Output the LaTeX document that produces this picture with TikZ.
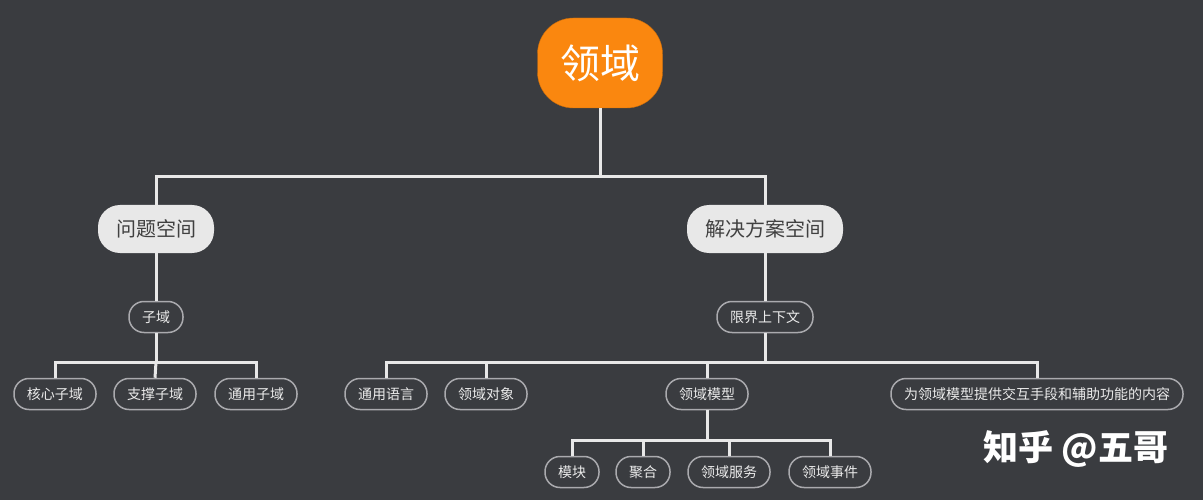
\documentclass[tikz,border=0pt]{standalone}
\usepackage{fontspec}
\setmainfont{Noto Sans CJK SC}
\usepackage{xcolor}
\usepackage{tikz}
\usetikzlibrary{positioning,calc}
\definecolor{bgdark}{RGB}{58,60,64}
\definecolor{domorange}{RGB}{250,135,15}
\definecolor{spacegray}{RGB}{232,232,232}
\definecolor{linegray}{RGB}{232,232,232}
\definecolor{leafborder}{RGB}{170,170,174}

\begin{document}
\begin{tikzpicture}[
        x=1pt, y=-1pt,
        every node/.style={font=\fontsize{14}{16}\selectfont},
        root/.style={rectangle, rounded corners=36pt, fill=domorange, draw=domorange!80!black, minimum width=125pt, minimum height=90pt, text=white, font=\fontsize{40}{44}\selectfont},
        space/.style={rectangle, rounded corners=22pt, fill=spacegray, text=black!75, minimum height=48pt, inner xsep=18pt, font=\fontsize{20}{24}\selectfont},
        leaf/.style={rectangle, rounded corners=15pt, draw=leafborder, line width=1.5pt, fill=bgdark, text=white!92!black, minimum height=31pt, inner xsep=13pt},
        edge/.style={draw=linegray, line width=3pt}
    ]
        \fill[bgdark] (0,0) rectangle (1203,500);
        \useasboundingbox (0,0) rectangle (1203,500);

        \node[root] (domain) at (600,63) {领域};
        \node[space] (problem) at (156,229) {问题空间};
        \node[space] (solution) at (765,229) {解决方案空间};
        \node[leaf] (sub) at (156,317) {子域};
        \node[leaf] (bounded) at (765,317) {限界上下文};
        \node[leaf] (core) at (55,394) {核心子域};
        \node[leaf] (support) at (155,394) {支撑子域};
        \node[leaf] (generic) at (256,394) {通用子域};
        \node[leaf] (lang) at (386,394) {通用语言};
        \node[leaf] (object) at (486,394) {领域对象};
        \node[leaf] (model) at (707,394) {领域模型};
        \node[leaf] (interact) at (1037,394) {为领域模型提供交互手段和辅助功能的内容};
        \node[leaf] (module) at (572,472) {模块};
        \node[leaf] (aggregate) at (643,472) {聚合};
        \node[leaf] (service) at (729,472) {领域服务};
        \node[leaf] (event) at (830,472) {领域事件};
        \node[text=white, font=\fontsize{35}{38}\selectfont\bfseries] (zhihu) at (1076,449) {知乎 @五哥};

        \coordinate (topbus) at (600,177);
        \coordinate (subbus) at (156,362);
        \coordinate (ctxbus) at (765,362);
        \coordinate (modelbus) at (707,440);

        \draw[edge] (domain.south) -- (topbus) -| (problem.north);
        \draw[edge] (topbus) -| (solution.north);
        \draw[edge] (problem.south) -- (sub.north);
        \draw[edge] (solution.south) -- (bounded.north);
        \draw[edge] (sub.south) -- (subbus) -| (core.north);
        \draw[edge] (subbus) -- (support.north);
        \draw[edge] (subbus) -| (generic.north);
        \draw[edge] (bounded.south) -- (ctxbus) -| (lang.north);
        \draw[edge] (ctxbus) -| (object.north);
        \draw[edge] (ctxbus) -| (model.north);
        \draw[edge] (ctxbus) -| (interact.north);
        \draw[edge] (model.south) -- (modelbus) -| (module.north);
        \draw[edge] (modelbus) -| (aggregate.north);
        \draw[edge] (modelbus) -| (service.north);
        \draw[edge] (modelbus) -| (event.north);
    \end{tikzpicture}
\end{document}
